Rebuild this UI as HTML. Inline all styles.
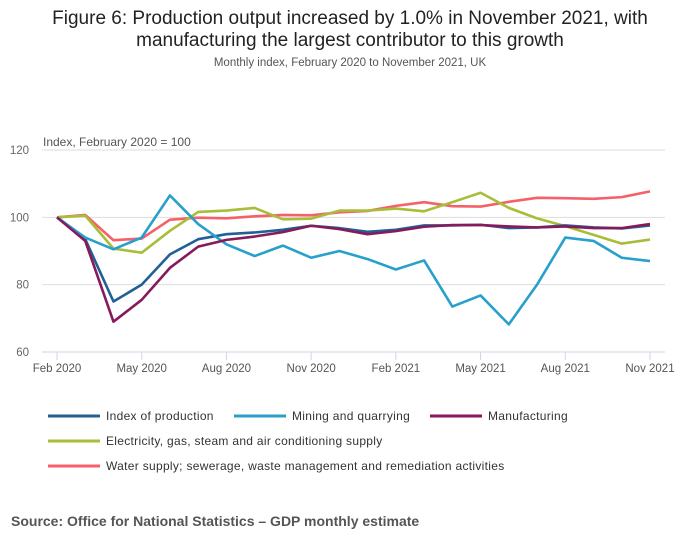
<!DOCTYPE html>
<html><head><meta charset="utf-8"><style>
body{margin:0;background:#fff;font-family:"Liberation Sans",sans-serif;}
#wrap{position:relative;width:700px;height:549px;overflow:hidden;}
.t{position:absolute;left:0;width:700px;text-align:center;color:#222;}
</style></head><body>
<div id="wrap">
<div class="t" style="top:8px;font-size:19px;line-height:22px;">Figure 6: Production output increased by 1.0% in November 2021, with<br>manufacturing the largest contributor to this growth</div>
<div class="t" style="top:57px;font-size:11.5px;color:#555;">Monthly index, February 2020 to November 2021, UK</div>
<svg id="chart" width="700" height="549" style="position:absolute;left:0;top:0"></svg>
<div style="position:absolute;left:11px;top:513px;font-size:14px;font-weight:bold;color:#555;">Source: Office for National Statistics – GDP monthly estimate</div>
</div>
<script>
const months=["Feb 2020","Mar 2020","Apr 2020","May 2020","Jun 2020","Jul 2020","Aug 2020","Sep 2020","Oct 2020","Nov 2020","Dec 2020","Jan 2021","Feb 2021","Mar 2021","Apr 2021","May 2021","Jun 2021","Jul 2021","Aug 2021","Sep 2021","Oct 2021","Nov 2021"];
const tickLabels=["Feb 2020","May 2020","Aug 2020","Nov 2020","Feb 2021","May 2021","Aug 2021","Nov 2021"];
const yTicks=[60,80,100,120];
const production=[100,93.5,75,80,89,93.5,95,95.5,96.3,97.5,96.8,95.7,96.3,97.6,97.6,97.8,96.8,97.0,97.6,97.0,96.7,97.6];
const mining=[100,94,90.5,94,106.5,98,92,88.5,91.6,88,90,87.6,84.5,87.2,73.5,76.8,68.2,80,94,93,88,87];
const manufacturing=[100,93,69,75.5,85,91.3,93.3,94.3,95.6,97.5,96.5,95,95.9,97.2,97.7,97.7,97.3,97.0,97.3,96.8,96.8,98];
const electricity=[100,100.5,90.7,89.5,96,101.6,102,102.8,99.4,99.6,102,102,102.6,101.8,104.5,107.3,102.8,99.7,97.4,94.8,92.2,93.4];
const water=[100,100.7,93.2,93.7,99.3,99.9,99.7,100.3,100.7,100.6,101.5,101.9,103.4,104.5,103.3,103.2,104.6,105.8,105.7,105.5,106,107.7];
const seriesNames=["Index of production","Mining and quarrying","Manufacturing","Electricity, gas, steam and air conditioning supply","Water supply; sewerage, waste management and remediation activities"];
const seriesData=[production,mining,manufacturing,electricity,water];
const colors=["#206095","#27a0cc","#871a5b","#a8bd3a","#f66068"];
const ns="http://www.w3.org/2000/svg",svg=document.getElementById('chart');
const x0=57,x1=650,yTop=150,yBot=352;
const xs=i=>x0+i*(x1-x0)/(months.length-1);
const ys=v=>yBot-(v-60)*(yBot-yTop)/60;
function mk(t,a){const e=document.createElementNS(ns,t);for(const k in a)e.setAttribute(k,a[k]);svg.appendChild(e);return e;}
yTicks.forEach(v=>{
 if(v>60){const g=mk('line',{x1:42,x2:665,y1:ys(v),y2:ys(v),stroke:'#ddd','stroke-width':1});
 
 }
 const t=mk('text',{x:29,y:ys(v)+4,'text-anchor':'end','font-size':11.5,fill:'#666','font-family':'Liberation Sans, sans-serif'});t.textContent=v;
 
 
});
const yt=mk('text',{x:43,y:146,'font-size':12,fill:'#555','font-family':'Liberation Sans, sans-serif'});yt.textContent="Index, February 2020 = 100";


const ax=mk('line',{x1:42,x2:665,y1:yBot,y2:yBot,stroke:'#ccd6eb','stroke-width':1});


tickLabels.forEach(l=>{const i=months.indexOf(l),x=xs(i);
 const tk=mk('line',{x1:x,x2:x,y1:yBot,y2:yBot+8,stroke:'#ccd6eb'});
 
 
 const t=mk('text',{x:x,y:372,'text-anchor':'middle','font-size':11.5,fill:'#555','font-family':'Liberation Sans, sans-serif'});t.textContent=l;
 
 
});
[4,3,0,1,2].forEach(s=>{
 const p=mk('polyline',{points:seriesData[s].map((v,i)=>xs(i)+','+ys(v)).join(' '),fill:'none',stroke:colors[s],'stroke-width':2.6,'stroke-linejoin':'round'});
 
 
});
const leg=[[48,416],[234,416],[430,416],[48,441],[48,466]];
seriesNames.forEach((n,s)=>{const [x,y]=leg[s];
 const l=mk('line',{x1:x,x2:x+52,y1:y,y2:y,stroke:colors[s],'stroke-width':3});
 
 
 const t=mk('text',{x:x+58,y:y+4,'font-size':12,fill:'#333','font-family':'Liberation Sans, sans-serif','letter-spacing':0.3});t.textContent=n;
 
 
});
</script>
</body></html>
